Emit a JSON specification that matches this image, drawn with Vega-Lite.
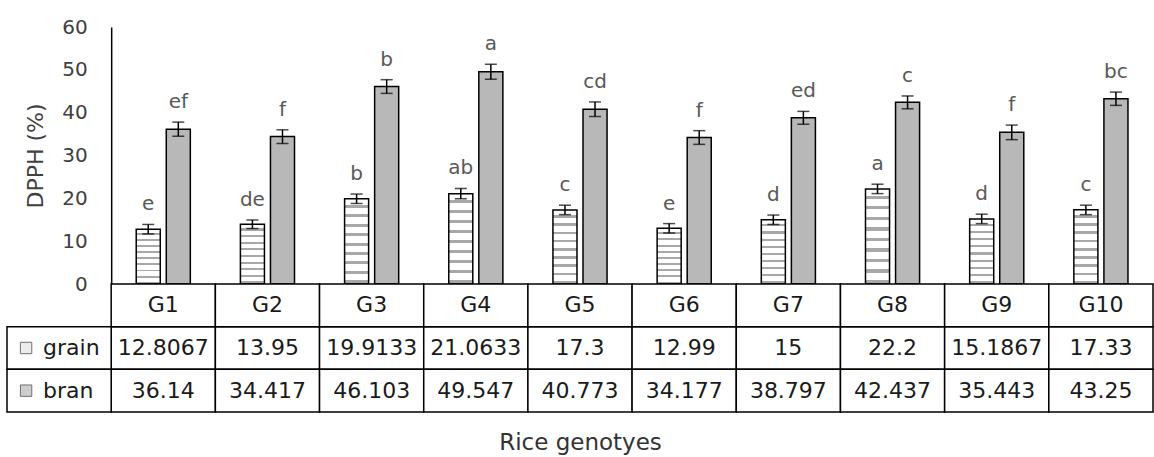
{
  "$schema": "https://vega.github.io/schema/vega-lite/v6.json",
  "padding": {"left": 6, "top": 17, "right": 0, "bottom": 4},
  "spacing": 0,
  "bounds": "flush",
  "config": {"view": {"stroke": null}, "font": "DejaVu Sans"},
  "datasets": {
    "bars": [
      {"genotype": "G1", "type": "grain", "value": 12.8067, "lo": 11.7, "hi": 13.9, "letter": "e"},
      {"genotype": "G1", "type": "bran", "value": 36.14, "lo": 34.5, "hi": 37.8, "letter": "ef"},
      {"genotype": "G2", "type": "grain", "value": 13.95, "lo": 12.95, "hi": 14.95, "letter": "de"},
      {"genotype": "G2", "type": "bran", "value": 34.417, "lo": 32.8, "hi": 36.0, "letter": "f"},
      {"genotype": "G3", "type": "grain", "value": 19.9133, "lo": 18.8, "hi": 21.0, "letter": "b"},
      {"genotype": "G3", "type": "bran", "value": 46.103, "lo": 44.5, "hi": 47.7, "letter": "b"},
      {"genotype": "G4", "type": "grain", "value": 21.0633, "lo": 19.9, "hi": 22.3, "letter": "ab"},
      {"genotype": "G4", "type": "bran", "value": 49.547, "lo": 47.8, "hi": 51.3, "letter": "a"},
      {"genotype": "G5", "type": "grain", "value": 17.3, "lo": 16.2, "hi": 18.4, "letter": "c"},
      {"genotype": "G5", "type": "bran", "value": 40.773, "lo": 39.1, "hi": 42.5, "letter": "cd"},
      {"genotype": "G6", "type": "grain", "value": 12.99, "lo": 11.9, "hi": 14.1, "letter": "e"},
      {"genotype": "G6", "type": "bran", "value": 34.177, "lo": 32.6, "hi": 35.8, "letter": "f"},
      {"genotype": "G7", "type": "grain", "value": 15, "lo": 13.9, "hi": 16.1, "letter": "d"},
      {"genotype": "G7", "type": "bran", "value": 38.797, "lo": 37.3, "hi": 40.3, "letter": "ed"},
      {"genotype": "G8", "type": "grain", "value": 22.2, "lo": 21.1, "hi": 23.3, "letter": "a"},
      {"genotype": "G8", "type": "bran", "value": 42.437, "lo": 40.9, "hi": 43.9, "letter": "c"},
      {"genotype": "G9", "type": "grain", "value": 15.1867, "lo": 14.1, "hi": 16.3, "letter": "d"},
      {"genotype": "G9", "type": "bran", "value": 35.443, "lo": 33.7, "hi": 37.1, "letter": "f"},
      {"genotype": "G10", "type": "grain", "value": 17.33, "lo": 16.2, "hi": 18.4, "letter": "c"},
      {"genotype": "G10", "type": "bran", "value": 43.25, "lo": 41.7, "hi": 44.8, "letter": "bc"}
    ]
  },
  "vconcat": [
    {
      "width": 1146,
      "height": 257,
      "data": {"name": "bars"},
      "encoding": {
        "x": {"field": "genotype", "type": "nominal", "scale": {"domain": ["", "G1", "G2", "G3", "G4", "G5", "G6", "G7", "G8", "G9", "G10"], "paddingInner": 0, "paddingOuter": 0}, "axis": null},
        "xOffset": {"field": "type", "type": "nominal", "scale": {"domain": ["grain", "bran"], "paddingInner": 0.2, "paddingOuter": 0.833}}
      },
      "layer": [
        {
          "transform": [{"filter": "datum.type === 'grain'"}],
          "mark": {"type": "bar", "stroke": "black", "strokeWidth": 1.5,
            "fill": {"gradient": "linear", "x1": 0, "y1": 0, "x2": 0, "y2": 1, "stops": [
              {"offset": 0, "color": "#ffffff"}, {"offset": 0.07, "color": "#ffffff"}, {"offset": 0.07, "color": "#a8a8a8"}, {"offset": 0.105, "color": "#a8a8a8"}, {"offset": 0.105, "color": "#ffffff"},
              {"offset": 0.181, "color": "#ffffff"}, {"offset": 0.181, "color": "#a8a8a8"}, {"offset": 0.216, "color": "#a8a8a8"}, {"offset": 0.216, "color": "#ffffff"},
              {"offset": 0.292, "color": "#ffffff"}, {"offset": 0.292, "color": "#a8a8a8"}, {"offset": 0.327, "color": "#a8a8a8"}, {"offset": 0.327, "color": "#ffffff"},
              {"offset": 0.403, "color": "#ffffff"}, {"offset": 0.403, "color": "#a8a8a8"}, {"offset": 0.438, "color": "#a8a8a8"}, {"offset": 0.438, "color": "#ffffff"},
              {"offset": 0.514, "color": "#ffffff"}, {"offset": 0.514, "color": "#a8a8a8"}, {"offset": 0.549, "color": "#a8a8a8"}, {"offset": 0.549, "color": "#ffffff"},
              {"offset": 0.625, "color": "#ffffff"}, {"offset": 0.625, "color": "#a8a8a8"}, {"offset": 0.66, "color": "#a8a8a8"}, {"offset": 0.66, "color": "#ffffff"},
              {"offset": 0.736, "color": "#ffffff"}, {"offset": 0.736, "color": "#a8a8a8"}, {"offset": 0.771, "color": "#a8a8a8"}, {"offset": 0.771, "color": "#ffffff"},
              {"offset": 0.847, "color": "#ffffff"}, {"offset": 0.847, "color": "#a8a8a8"}, {"offset": 0.882, "color": "#a8a8a8"}, {"offset": 0.882, "color": "#ffffff"},
              {"offset": 0.958, "color": "#ffffff"}, {"offset": 0.958, "color": "#a8a8a8"}, {"offset": 0.993, "color": "#a8a8a8"}, {"offset": 0.993, "color": "#ffffff"},
              {"offset": 1, "color": "#ffffff"}
            ]}},
          "encoding": {
            "y": {"field": "value", "type": "quantitative", "scale": {"domain": [0, 60], "nice": false},
              "axis": {"values": [0, 10, 20, 30, 40, 50, 60], "grid": false, "ticks": false, "offset": -104.18, "domainColor": "black", "domainWidth": 1.5, "labelPadding": 24, "labelFontSize": 20, "labelColor": "#404040", "title": "DPPH (%)", "titleFontSize": 22, "titleFontWeight": "normal", "titleColor": "#404040", "titlePadding": 14}}
          }
        },
        {
          "transform": [{"filter": "datum.type === 'bran'"}],
          "mark": {"type": "bar", "stroke": "black", "strokeWidth": 1.5, "fill": "#b8b8b8"},
          "encoding": {"y": {"field": "value", "type": "quantitative"}}
        },
        {
          "mark": {"type": "rule", "color": "black", "strokeWidth": 1.5},
          "encoding": {"y": {"field": "lo", "type": "quantitative"}, "y2": {"field": "hi"}}
        },
        {
          "mark": {"type": "tick", "color": "black", "thickness": 1.5, "size": 12, "orient": "horizontal"},
          "encoding": {"y": {"field": "lo", "type": "quantitative"}}
        },
        {
          "mark": {"type": "tick", "color": "black", "thickness": 1.5, "size": 12, "orient": "horizontal"},
          "encoding": {"y": {"field": "hi", "type": "quantitative"}}
        },
        {
          "mark": {"type": "text", "fontSize": 20, "color": "#595959", "baseline": "alphabetic", "dy": -14},
          "encoding": {"y": {"field": "hi", "type": "quantitative"}, "text": {"field": "letter"}}
        }
      ]
    },
    {
      "width": 1146,
      "height": 128,
      "encoding": {
        "x": {"scale": {"domain": ["", "G1", "G2", "G3", "G4", "G5", "G6", "G7", "G8", "G9", "G10"], "paddingInner": 0, "paddingOuter": 0}}
      },
      "layer": [
        {
          "data": {"name": "bars"},
          "mark": {"type": "rect", "fill": "white", "stroke": "black", "strokeWidth": 1.5},
          "encoding": {
            "x": {"field": "genotype", "type": "nominal", "axis": {"labels": false, "ticks": false, "domain": false, "title": "Rice genotyes", "titleFontSize": 23, "titleFontWeight": "normal", "titleColor": "#333333", "titlePadding": 19}},
            "y": {"field": "type", "type": "nominal", "scale": {"domain": ["hdr", "grain", "bran"], "paddingInner": 0, "paddingOuter": 0}, "axis": null}
          }
        },
        {
          "data": {"name": "bars"},
          "mark": {"type": "text", "fontSize": 22, "color": "#1a1a1a", "baseline": "middle"},
          "encoding": {
            "x": {"field": "genotype", "type": "nominal"},
            "y": {"field": "type", "type": "nominal"},
            "text": {"field": "value", "type": "nominal"}
          }
        },
        {
          "data": {"name": "bars"},
          "transform": [{"filter": "datum.type === 'grain'"}],
          "mark": {"type": "rect", "fill": "white", "stroke": "black", "strokeWidth": 1.5},
          "encoding": {
            "x": {"field": "genotype", "type": "nominal"},
            "y": {"datum": "hdr"}
          }
        },
        {
          "data": {"name": "bars"},
          "transform": [{"filter": "datum.type === 'grain'"}],
          "mark": {"type": "text", "fontSize": 22, "color": "#1a1a1a", "baseline": "middle"},
          "encoding": {
            "x": {"field": "genotype", "type": "nominal"},
            "y": {"datum": "hdr"},
            "text": {"field": "genotype"}
          }
        },
        {
          "data": {"name": "bars"},
          "transform": [{"filter": "datum.genotype === 'G1'"}],
          "mark": {"type": "rect", "fill": "white", "stroke": "black", "strokeWidth": 1.5},
          "encoding": {
            "x": {"datum": ""},
            "y": {"field": "type", "type": "nominal"}
          }
        },
        {
          "data": {"name": "bars"},
          "transform": [{"filter": "datum.genotype === 'G1'"}],
          "mark": {"type": "point", "shape": "square", "size": 130, "filled": true, "stroke": "#333333", "strokeWidth": 1, "xOffset": -33},
          "encoding": {
            "x": {"datum": ""},
            "y": {"field": "type", "type": "nominal"},
            "fill": {"field": "type", "type": "nominal", "scale": {"domain": ["grain", "bran"], "range": ["#e4e4e4", "#b8b8b8"]}, "legend": null}
          }
        },
        {
          "data": {"name": "bars"},
          "transform": [{"filter": "datum.genotype === 'G1'"}],
          "mark": {"type": "text", "fontSize": 22, "color": "#1a1a1a", "baseline": "middle", "align": "left", "dx": -16},
          "encoding": {
            "x": {"datum": ""},
            "y": {"field": "type", "type": "nominal"},
            "text": {"field": "type"}
          }
        }
      ]
    }
  ]
}
